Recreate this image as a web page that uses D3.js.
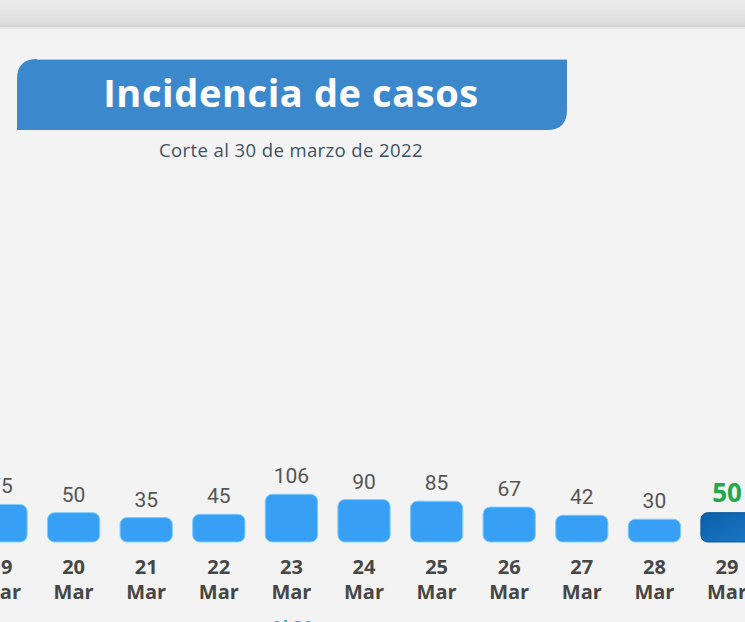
<!DOCTYPE html>
<html>
<head>
<meta charset="utf-8">
<script src="https://cdn.jsdelivr.net/npm/d3@7"></script>
<style>
  html, body { margin: 0; padding: 0; background: #f2f2f2; overflow: hidden; }
  svg { display: block; }
</style>
</head>
<body>
<svg id="chart" width="745" height="622"></svg>
<script>
// values (19 Mar label is cut on the left edge)
const days = ["19", "20", "21", "22", "23", "24", "25", "26", "27", "28", "29"];
const months = ["Mar", "Mar", "Mar", "Mar", "Mar", "Mar", "Mar", "Mar", "Mar", "Mar", "Mar"];
const cases = [75, 50, 35, 45, 106, 90, 85, 67, 42, 30, 50];
const highlightDay = "29";

const titleText = "Incidencia de casos";
const subtitleText = "Corte al 30 de marzo de 2022";
const footText = "Al 30";

const svg = d3.select("#chart");
const W = 745, H = 622;
const baseY = 542;

const defs = svg.append("defs");
const topGrad = defs.append("linearGradient").attr("id", "topbar").attr("x1", 0).attr("y1", 0).attr("x2", 0).attr("y2", 1);
topGrad.append("stop").attr("offset", "0%").attr("stop-color", "#ededed");
topGrad.append("stop").attr("offset", "80%").attr("stop-color", "#dedede");
topGrad.append("stop").attr("offset", "100%").attr("stop-color", "#d4d4d4");

const darkGrad = defs.append("linearGradient").attr("id", "darkbar").attr("x1", 0).attr("y1", 0).attr("x2", 1).attr("y2", 1);
darkGrad.append("stop").attr("offset", "0%").attr("stop-color", "#0a5ea8");
darkGrad.append("stop").attr("offset", "100%").attr("stop-color", "#1d78c6");

// background
svg.append("rect").attr("width", W).attr("height", H).attr("fill", "#f3f3f3");
svg.append("rect").attr("width", W).attr("height", 27).attr("fill", "url(#topbar)");
svg.append("rect").attr("y", 27).attr("width", W).attr("height", 2).attr("fill", "#e6e6e6");

// title banner: rounded top-left and bottom-right corners
const bx0 = 17, by0 = 59, bx1 = 567, by1 = 130, r = 20;
const banner = d3.path();
banner.moveTo(bx0, by0 + r);
banner.quadraticCurveTo(bx0, by0, bx0 + r, by0);
banner.lineTo(bx1, by0);
banner.lineTo(bx1, by1 - r);
banner.quadraticCurveTo(bx1, by1, bx1 - r, by1);
banner.lineTo(bx0, by1);
banner.closePath();
svg.append("path").attr("d", banner.toString()).attr("fill", "#3b88cd");
svg.append("line").attr("x1", bx0 + r).attr("x2", bx1).attr("y1", by0 + 0.5).attr("y2", by0 + 0.5)
  .attr("stroke", "#8fd0f5").attr("stroke-width", 1);

svg.append("text")
  .attr("x", 291).attr("y", 107)
  .attr("text-anchor", "middle")
  .attr("font-family", "'Open Sans', sans-serif")
  .attr("font-weight", 700)
  .attr("font-size", 38)
  .attr("letter-spacing", 0.6)
  .attr("fill", "#ffffff")
  .text(titleText);

svg.append("text")
  .attr("x", 291).attr("y", 157)
  .attr("text-anchor", "middle")
  .attr("font-family", "'Open Sans', sans-serif")
  .attr("font-size", 18.5)
  .attr("letter-spacing", 0.4)
  .attr("fill", "#3b5265")
  .text(subtitleText);

// scales
const x = d3.scaleBand()
  .domain(days)
  .range([-35.3, 763.3])
  .paddingInner(0.28)
  .paddingOuter(0.14);

const h = d3.scaleLinear().domain([0, 110]).range([13, 49]);

const data = days.map((d, i) => ({ day: d, month: months[i], value: cases[i] }));

const g = svg.append("g");

g.selectAll(".bar")
  .data(data)
  .enter().append("rect")
    .attr("class", "bar")
    .attr("x", d => x(d.day))
    .attr("y", d => baseY - h(d.value))
    .attr("width", x.bandwidth())
    .attr("height", d => h(d.value))
    .attr("rx", 7)
    .attr("fill", d => d.day === highlightDay ? "url(#darkbar)" : "#38a0f4")
    .attr("stroke", d => d.day === highlightDay ? "#0c5aa0" : "#7fcdfb")
    .attr("stroke-width", 1);

g.selectAll(".val")
  .data(data)
  .enter().append("text")
    .attr("class", "val")
    .attr("x", d => x(d.day) + x.bandwidth() / 2)
    .attr("y", d => baseY - h(d.value) - 11)
    .attr("text-anchor", "middle")
    .attr("font-family", d => d.day === highlightDay ? "'Open Sans', sans-serif" : "Roboto, sans-serif")
    .attr("font-weight", d => d.day === highlightDay ? 700 : 400)
    .attr("font-size", d => d.day === highlightDay ? 26 : 21)
    .attr("fill", d => d.day === highlightDay ? "#20a84c" : "#555555")
    .text(d => d.value);

g.selectAll(".day")
  .data(data)
  .enter().append("text")
    .attr("class", "day")
    .attr("x", d => x(d.day) + x.bandwidth() / 2)
    .attr("y", 574)
    .attr("text-anchor", "middle")
    .attr("font-family", "'Open Sans', sans-serif")
    .attr("font-weight", 700)
    .attr("font-size", 20)
    .attr("fill", "#464646")
    .text(d => d.day);

g.selectAll(".month")
  .data(data)
  .enter().append("text")
    .attr("class", "month")
    .attr("x", d => x(d.day) + x.bandwidth() / 2)
    .attr("y", 599)
    .attr("text-anchor", "middle")
    .attr("font-family", "'Open Sans', sans-serif")
    .attr("font-weight", 700)
    .attr("font-size", 20)
    .attr("fill", "#464646")
    .text(d => d.month);

// small caption just below the frame edge, only its top shows
svg.append("text")
  .attr("x", 292).attr("y", 634)
  .attr("text-anchor", "middle")
  .attr("font-family", "'Open Sans', sans-serif")
  .attr("font-weight", 700)
  .attr("font-size", 18)
  .attr("fill", "#3aaed0")
  .text(footText);
</script>
</body>
</html>
